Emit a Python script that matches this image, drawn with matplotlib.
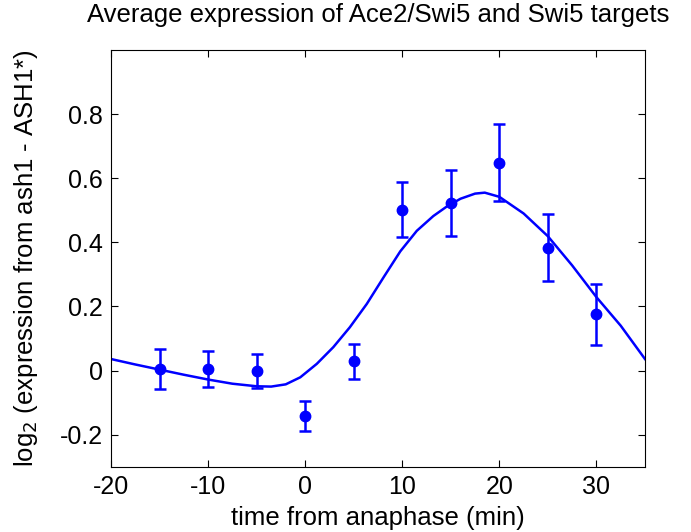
import matplotlib
matplotlib.use("Agg")
import matplotlib.pyplot as plt

# Measured points (time from anaphase, min) with error bars
time_min = [-15, -10, -5, 0, 5, 10, 15, 20, 25, 30]
mean_expr = [0.005, 0.005, -0.002, -0.142, 0.029, 0.502, 0.523, 0.648, 0.383, 0.175]
err_expr = [0.062, 0.055, 0.053, 0.047, 0.054, 0.085, 0.103, 0.12, 0.105, 0.094]

# Fitted curve
fit_time = [-20, -17.5, -15, -12.5, -10, -7.5, -5, -3.5, -2, -0.5, 1.2, 2.9,
            4.6, 6.35, 8.1, 9.8, 11.5, 13.2, 14.6, 16, 17.5, 18.5, 20, 22.5,
            25, 27.5, 30, 32.5, 35]
fit_expr = [0.036, 0.019, 0.003, -0.013, -0.028, -0.041, -0.049, -0.050,
            -0.043, -0.021, 0.021, 0.073, 0.135, 0.208, 0.292, 0.372, 0.436,
            0.482, 0.512, 0.536, 0.552, 0.555, 0.542, 0.490, 0.419, 0.328,
            0.229, 0.140, 0.036]

x_ticks = [-20, -10, 0, 10, 20, 30]
y_ticks = [-0.2, 0, 0.2, 0.4, 0.6, 0.8]
y_tick_labels = ["-0.2", "0", "0.2", "0.4", "0.6", "0.8"]

plt.rcParams["font.family"] = ["Liberation Sans", "DejaVu Sans"]
plt.rcParams["axes.unicode_minus"] = False

fig = plt.figure(figsize=(6.91, 5.32), dpi=100)
ax = fig.add_axes([0.1606, 0.1227, 0.7728, 0.7833])

ax.plot(fit_time, fit_expr, color="#0000ff", linewidth=1.8)
ax.errorbar(time_min, mean_expr, yerr=err_expr, fmt="o", color="#0000ff",
            markersize=7.5, elinewidth=1.8, capsize=4, capthick=1.8)

ax.set_xlim(-20, 35)
ax.set_ylim(-0.3, 1.0)
ax.set_xticks(x_ticks)
ax.set_yticks(y_ticks)
ax.set_yticklabels(y_tick_labels)
ax.tick_params(direction="in", top=True, right=True, labelsize=18, length=5, pad=6)
for spine in ax.spines.values():
    spine.set_linewidth(0.8)

ax.set_xlabel("time from anaphase (min)", fontsize=18.5, labelpad=5)
ax.set_ylabel("log$_2$ (expression from ash1 - ASH1*)", fontsize=18.5, labelpad=14)
ax.set_title("Average expression of Ace2/Swi5 and Swi5 targets", fontsize=18.5, pad=20)

fig.savefig("out.png", dpi=100)
